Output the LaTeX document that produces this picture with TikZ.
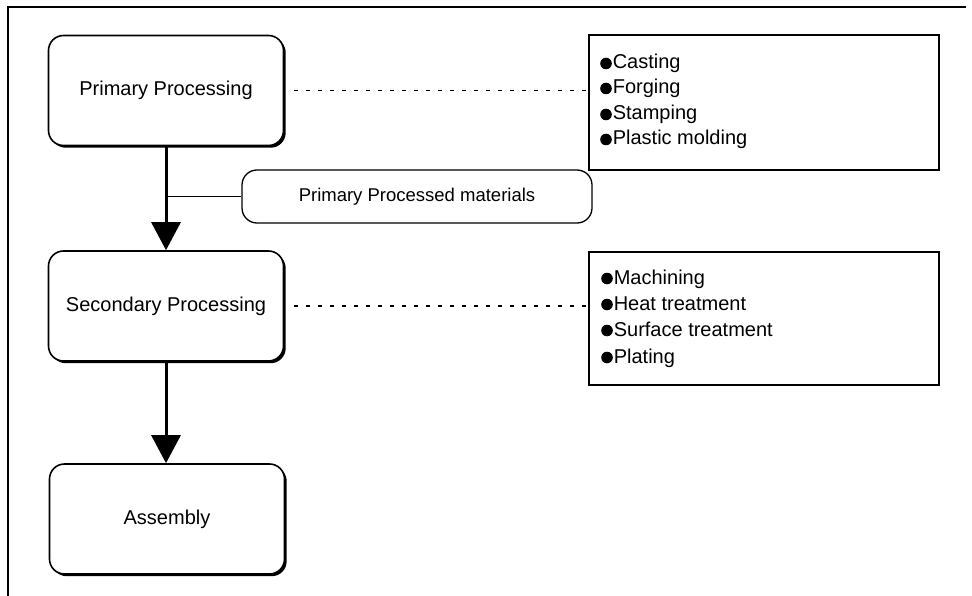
\documentclass[tikz,border=0pt]{standalone}
\usepackage{fontspec}
\setmainfont{Liberation Sans}
\usetikzlibrary{arrows.meta,shadows}

% filled round bullet for the list items
\newcommand\dotmark{\tikz[baseline=-5.5pt,x=1pt,y=1pt]\fill (0,0) circle (5.8pt);\hspace{1pt}}

\tikzset{
  stage/.style={draw, line width=1.6pt, rounded corners=15pt, fill=white,
    minimum width=235pt, minimum height=110pt, inner sep=0pt,
    font=\fontsize{20}{24}\selectfont,
    drop shadow={shadow xshift=2.2pt, shadow yshift=-2.2pt, fill=black, opacity=1}},
  tag/.style={draw, line width=1.3pt, rounded corners=15pt, fill=white,
    minimum width=350pt, minimum height=53pt, inner sep=0pt,
    font=\fontsize{18.5}{22}\selectfont},
  listbox/.style={draw, line width=1.6pt, inner sep=0pt, minimum width=350pt},
  item/.style={anchor=base west, inner sep=0pt, font=\fontsize{20}{24}\selectfont},
  flow/.style={line width=3pt, -{Triangle[width=29pt,length=28pt]}},
  link/.style={line width=1.3pt, dash pattern=on 3.5pt off 8.5pt},
  frame/.style={line width=1.6pt}
}

\begin{document}
\begin{tikzpicture}[x=1pt,y=-1pt]
  \useasboundingbox (0,0) rectangle (972,596);

  % page frame: top and left edges
  \coordinate (fr-tr) at (966,7);
  \coordinate (fr-tl) at (8,7);
  \coordinate (fr-bl) at (8,596);
  \draw[frame] (fr-tr) -- (fr-tl) -- (fr-bl);

  % process stages
  \node[stage] (primary)   at (166,90.5)  {Primary Processing};
  \node[stage] (secondary) at (166,306)   {Secondary Processing};
  \node[stage] (assembly)  at (167,519)   {Assembly};

  % intermediate product tag
  \node[tag] (material) at (417,196.5) {Primary Processed materials};

  % lists of operations
  \node[listbox, minimum height=135pt] (ops1) at (764,102.5) {};
  \node[listbox, minimum height=133pt] (ops2) at (764,318.5) {};

  \node[item] (c1) at (600,69)  {\dotmark Casting};
  \node[item] (c2) at (600,94)  {\dotmark Forging};
  \node[item] (c3) at (600,120) {\dotmark Stamping};
  \node[item] (c4) at (600,145) {\dotmark Plastic molding};

  \node[item] (d1) at (601,284) {\dotmark Machining};
  \node[item] (d2) at (601,310) {\dotmark Heat treatment};
  \node[item] (d3) at (601,336) {\dotmark Surface treatment};
  \node[item] (d4) at (601,363) {\dotmark Plating};

  % main flow
  \draw[flow] (primary.south) -- (secondary.north);
  \draw[flow] (secondary.south) -- (secondary.south |- assembly.north);

  % branch to the product tag
  \coordinate (branch) at (166,196.5);
  \draw[line width=1.4pt] (branch) -- (material.west);

  % dotted links to the operation lists
  \draw[link] ([xshift=10pt]primary.east) -- (primary.east -| ops1.west);
  \draw[link] ([xshift=10pt]secondary.east) -- (secondary.east -| ops2.west);
\end{tikzpicture}
\end{document}
